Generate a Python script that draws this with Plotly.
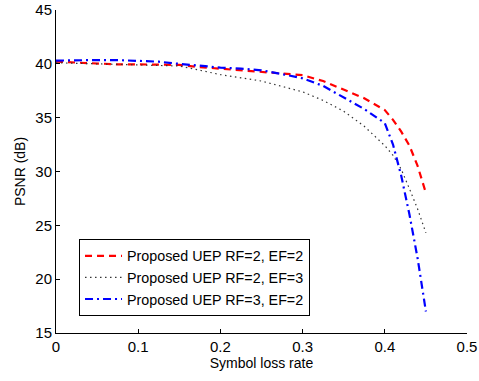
import plotly.graph_objects as go

loss_rate = [0, 0.025, 0.05, 0.075, 0.1, 0.125, 0.15, 0.175, 0.2, 0.225,
             0.25, 0.275, 0.3, 0.325, 0.35, 0.375, 0.4, 0.41, 0.42, 0.43, 0.44, 0.45]
psnr_rf2_ef2 = [40.2, 40.1, 40.0, 39.95, 39.95, 39.95, 39.9, 39.7, 39.55, 39.4,
                39.3, 39.1, 38.95, 38.4, 37.6, 36.8, 35.7, 34.8, 33.7, 32.4, 30.5, 28.0]
psnr_rf2_ef3 = [40.1, 40.05, 40.0, 40.0, 39.95, 39.9, 39.8, 39.4, 39.0, 38.7,
                38.4, 37.9, 37.4, 36.6, 35.6, 34.2, 32.4, 31.5, 30.2, 28.4, 26.5, 24.3]
psnr_rf3_ef2 = [40.3, 40.35, 40.35, 40.35, 40.3, 40.2, 40.0, 39.8, 39.65, 39.55,
                39.4, 39.05, 38.65, 37.95, 36.9, 35.8, 34.5, 32.5, 29.6, 26.0, 21.9, 17.0]
names = ["Proposed UEP RF=2, EF=2", "Proposed UEP RF=2, EF=3", "Proposed UEP RF=3, EF=2"]
x_ticks = [0, 0.1, 0.2, 0.3, 0.4, 0.5]
y_ticks = [15, 20, 25, 30, 35, 40, 45]

fig = go.Figure()
fig.add_trace(go.Scatter(x=loss_rate, y=psnr_rf2_ef2, mode="lines", name=names[0],
                         line=dict(color="#ff0000", width=2.2, dash="7px,5px")))
fig.add_trace(go.Scatter(x=loss_rate, y=psnr_rf2_ef3, mode="lines", name=names[1],
                         line=dict(color="#333333", width=1.2, dash="1.5px,3.5px")))
fig.add_trace(go.Scatter(x=loss_rate, y=psnr_rf3_ef2, mode="lines", name=names[2],
                         line=dict(color="#0000ff", width=2.2, dash="8px,4px,2px,4px")))

fam = "Liberation Sans, Arial, sans-serif"
fig.update_layout(
    width=479, height=381,
    margin=dict(l=56, r=12, t=10, b=48),
    paper_bgcolor="white", plot_bgcolor="white",
    font=dict(family=fam, size=14, color="black"),
    showlegend=True,
    legend=dict(x=0.056, y=0.291, xanchor="left", yanchor="top",
                bordercolor="black", borderwidth=1, bgcolor="white",
                font=dict(family=fam, size=14.3, color="black"),
                tracegroupgap=0, itemwidth=37),
    xaxis=dict(range=[0, 0.5], tickvals=x_ticks, ticktext=[str(t) for t in x_ticks],
               showgrid=False, zeroline=False, showline=True, linecolor="black",
               linewidth=1, ticks="inside", ticklen=4, tickcolor="black",
               tickfont=dict(size=15), automargin=False, ticklabeloverflow="allow",
               title=dict(text="Symbol loss rate", standoff=4, font=dict(size=14))),
    yaxis=dict(range=[15, 45], tickvals=y_ticks, showgrid=False, zeroline=False,
               showline=True, linecolor="black", linewidth=1, ticks="inside",
               ticklen=4, tickcolor="black", tickfont=dict(size=15), automargin=False,
               ticklabeloverflow="allow",
               title=dict(text="PSNR (dB)", standoff=6, font=dict(size=14))),
)
fig.write_html("out.html", config={"displayModeBar": False},
               post_script="document.body.style.margin='0';document.body.style.overflow='hidden';")
